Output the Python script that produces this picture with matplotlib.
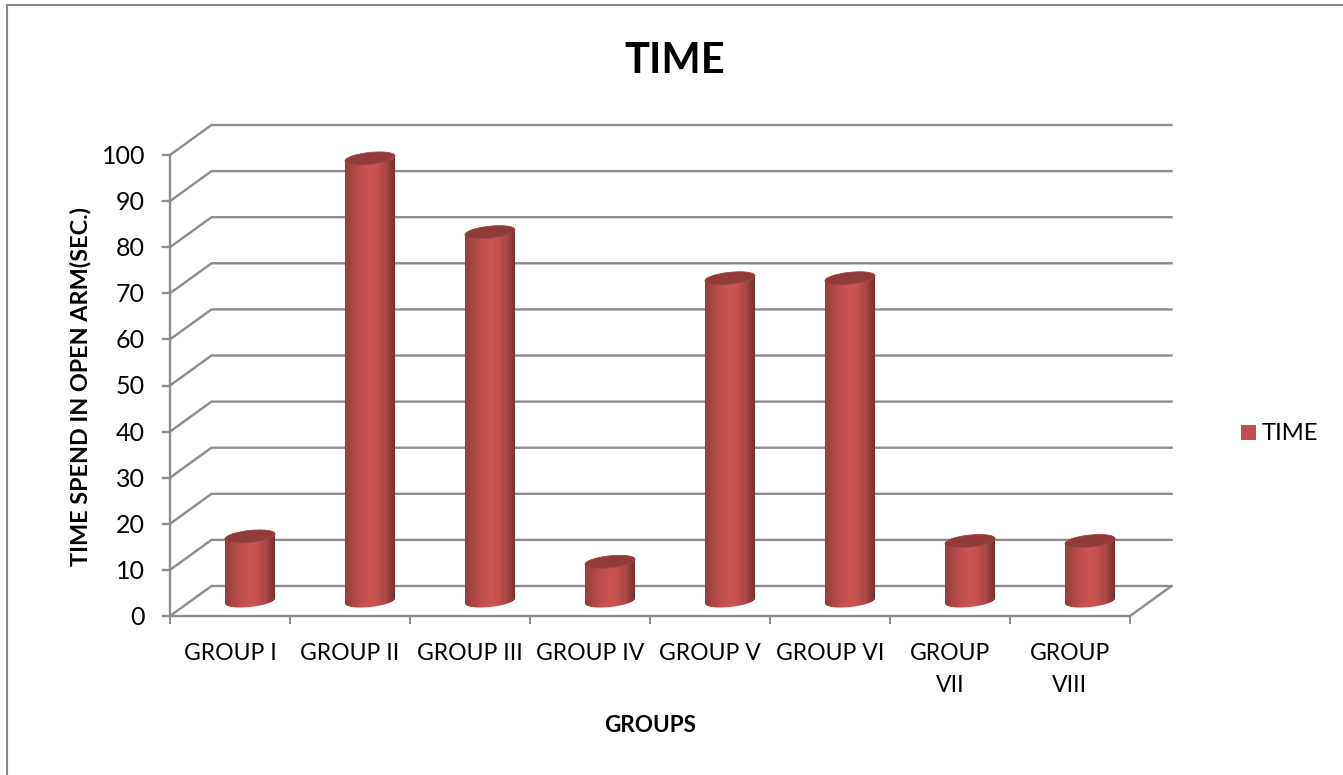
import numpy as np
import matplotlib
matplotlib.use("Agg")
import matplotlib.pyplot as plt
from matplotlib.colors import LinearSegmentedColormap
from matplotlib.patches import Polygon, Rectangle

plt.rcParams['font.family'] = ['Lato', 'DejaVu Sans']

groups = ["GROUP I", "GROUP II", "GROUP III", "GROUP IV", "GROUP V", "GROUP VI", "GROUP\nVII", "GROUP\nVIII"]
time_values = [14, 96, 80, 8.5, 70, 70, 13, 13]
y_ticks = [0, 10, 20, 30, 40, 50, 60, 70, 80, 90, 100]

W, H = 1343, 775
GRAY = "#8c8c8c"
RED = "#c0504d"

fig = plt.figure(figsize=(W / 100, H / 100), dpi=100)
ax = fig.add_axes([170 / W, 1 - 616 / H, 960 / W, 461 / H])
ax.set_xlim(0, 8)
ax.set_ylim(0, 100)
ax.axis("off")

# chart frame
fig.add_artist(Rectangle((7 / W, -0.02), 1.2, 1 - 5 / H + 0.02, transform=fig.transFigure,
                         fill=False, ec="#868686", lw=1.5))

# depth of the 3D box, in data units
px_x = 8 / 960
px_y = 100 / 461
depth_x = 41.5 * px_x
depth_y = 30 * px_y

# back wall gridlines and their slanted links on the side wall
for v in y_ticks:
    ax.plot([0, depth_x, 8 + depth_x], [v, v + depth_y, v + depth_y],
            color=GRAY, lw=1.7, clip_on=False, solid_joinstyle="miter", zorder=1)
    ax.plot([-7 * px_x, 0], [v, v], color=GRAY, lw=1.7, clip_on=False, zorder=1)

# axis lines, floor edge and ticks
ax.plot([0, 0], [0, 100], color=GRAY, lw=1.7, clip_on=False, zorder=1)
ax.plot([0, 8, 8 + depth_x], [0, 0, depth_y], color=GRAY, lw=1.7, clip_on=False, zorder=1)
for i in range(9):
    ax.plot([i, i], [0, -7 * px_y], color=GRAY, lw=1.4, clip_on=False, zorder=1)

shade = LinearSegmentedColormap.from_list(
    "cyl", ["#973f3d", "#ad4845", "#c0504d", "#cb5552", "#c4514e", "#a54543", "#74302e"])
gradient = np.linspace(0, 1, 256).reshape(1, -1)

a = 25 * px_x
b = 6 * px_y
k = 2.5 * px_y
t = np.linspace(0, 2 * np.pi, 121)
floor_y = 15 * px_y

# cylinders drawn from the values
for i, v in enumerate(time_values):
    cx = i + 0.5 + 20 * px_x
    x_e = cx + a * np.cos(t)
    e = b * np.sin(t) + k * np.cos(t)
    y0 = floor_y
    y1 = floor_y + v
    lower = t[60:121]
    xl = cx + a * np.cos(lower)
    yl = y0 + b * np.sin(lower) + k * np.cos(lower)
    upper = t[:61]
    xu = cx + a * np.cos(upper)
    yu = y1 + b * np.sin(upper) + k * np.cos(upper)
    body = Polygon(np.column_stack([np.r_[xl, xu], np.r_[yl, yu]]), closed=True,
                   transform=ax.transData, fc="none", ec="none")
    ax.add_patch(body)
    im = ax.imshow(gradient, cmap=shade, extent=[cx - a, cx + a, y0 - 3, y1 + 3],
                   aspect="auto", zorder=3, clip_on=True)
    im.set_clip_path(body)
    ax.add_patch(Polygon(np.column_stack([x_e, y1 + e]), closed=True, fc="#8f3b39",
                         ec="#a84644", lw=0.6, zorder=4, clip_on=False))
ax.set_xlim(0, 8)
ax.set_ylim(0, 100)

# tick labels
for v in y_ticks:
    ax.text(-25 * px_x, v - 1.5 * px_y, str(v), ha="right", va="center", fontsize=18, color="black")
for i, g in enumerate(groups):
    ax.text(i + 0.5, -27 * px_y, g, ha="center", va="top", fontsize=16.6, color="black", linespacing=1.63)

# titles
fig.text(675 / W, 1 - 61 / H, "TIME", ha="center", va="center", fontsize=30, fontweight="bold", color="black")
fig.text(650 / W, 1 - 726 / H, "GROUPS", ha="center", va="center", fontsize=16.2, fontweight="bold", color="black")
fig.text(81 / W, 1 - 387 / H, "TIME SPEND IN OPEN ARM(SEC.)", ha="center", va="center",
         rotation=90, fontsize=16.8, fontweight="bold", color="black")

# legend
fig.add_artist(Rectangle((1241 / W, 1 - 440 / H), 15 / W, 15 / H, transform=fig.transFigure, fc=RED, ec="none"))
fig.text(1262 / W, 1 - 433 / H, "TIME", ha="left", va="center", fontsize=17.2, color="black")

fig.savefig("out.png", dpi=100, facecolor="white")
